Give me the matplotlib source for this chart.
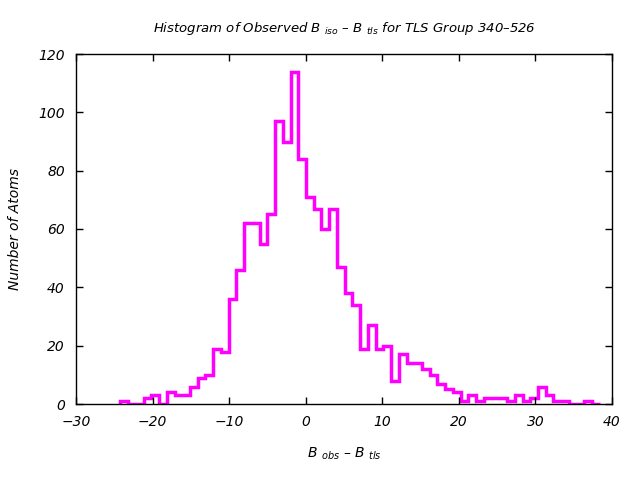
import numpy as np
import matplotlib
matplotlib.use('Agg')
import matplotlib.pyplot as plt

# Conteos por bin (ancho ~1.01, desde -24.2)
bin_start = -24.2
bin_width = 1.01
counts = [1, 0, 0, 2, 3, 0, 4, 3, 3, 6,
          9, 10, 19, 18, 36, 46, 62, 62, 55, 65,
          97, 90, 114, 84, 71, 67, 60, 67, 47, 38,
          34, 19, 27, 19, 20, 8, 17, 14, 14, 12,
          10, 7, 5, 4, 1, 3, 1, 2, 2, 2,
          1, 3, 1, 2, 6, 3, 1, 1, 0, 0,
          1, 0]
xticks = [-30, -20, -10, 0, 10, 20, 30, 40]
yticks = [0, 20, 40, 60, 80, 100, 120]

edges = bin_start + bin_width * np.arange(len(counts) + 1)

plt.rcParams['font.family'] = 'DejaVu Sans'
plt.rcParams['font.style'] = 'italic'
plt.rcParams['mathtext.fontset'] = 'dejavusans'
plt.rcParams['mathtext.default'] = 'it'

fig = plt.figure(figsize=(6.4, 4.8), dpi=100)
ax = fig.add_axes([76/640, 76/480, 536/640, 350/480])

ax.stairs(counts, edges, baseline=0, color='#ff00ff', lw=2.5)

ax.set_xlim(-30, 40)
ax.set_ylim(0, 120)
ax.set_xticks(xticks)
ax.set_yticks(yticks)
ax.set_xticklabels(['\u2212' + str(-v) if v < 0 else str(v) for v in xticks])
ax.tick_params(direction='in', length=5, width=1, top=True, right=True,
               labelsize=10, pad=8)
for s in ax.spines.values():
    s.set_linewidth(1)

ax.set_title('Histogram of Observed B $_{iso}$ \u2013 B $_{tls}$ for TLS Group 340\u2013526',
             fontsize=9.5, pad=16)
ax.set_xlabel('B $_{obs}$ \u2013 B $_{tls}$', fontsize=10, labelpad=12)
ax.set_ylabel('Number of Atoms', fontsize=10, labelpad=12)

fig.savefig('out.png', dpi=100)
